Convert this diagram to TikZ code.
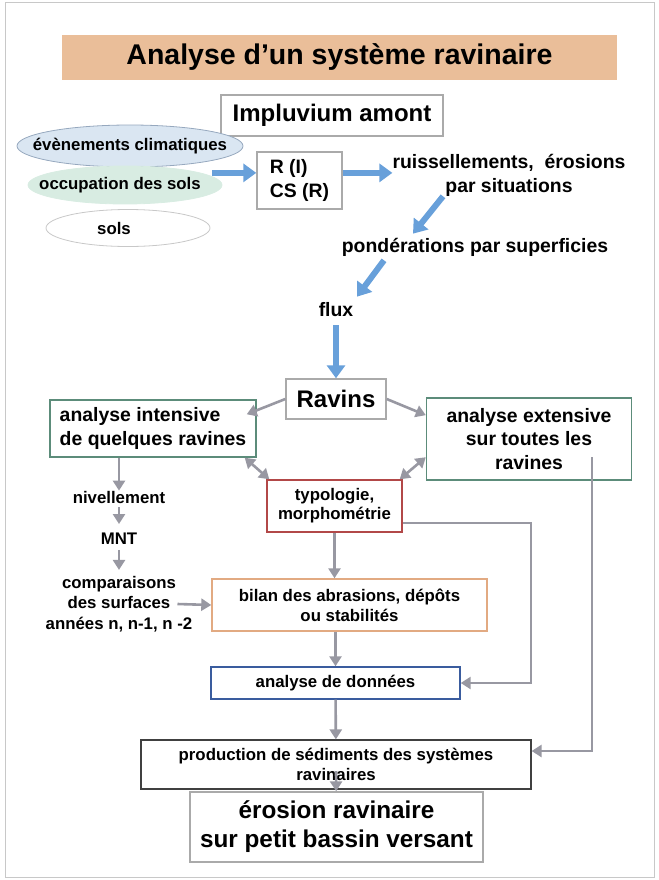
\documentclass[tikz,border=0pt]{standalone}
\usepackage{fontspec}
\setmainfont{Liberation Sans}
\usetikzlibrary{arrows.meta,shapes.geometric,calc}
\definecolor{peche}{RGB}{234,190,153}
\definecolor{bleuclair}{RGB}{218,230,242}
\definecolor{bleubord}{RGB}{150,168,190}
\definecolor{vertclair}{RGB}{216,236,226}
\definecolor{grisclair}{RGB}{200,200,200}
\definecolor{grisbord}{RGB}{170,170,170}
\definecolor{bleufl}{RGB}{104,160,218}
\definecolor{grisfl}{RGB}{152,152,162}
\definecolor{vert}{RGB}{92,140,122}
\definecolor{rouge}{RGB}{178,72,72}
\definecolor{orange}{RGB}{226,170,130}
\definecolor{bleufonce}{RGB}{58,92,158}
\definecolor{sombre}{RGB}{64,64,64}

\begin{document}
\begin{tikzpicture}[x=1pt,y=-1pt,
	boite/.style={draw=grisbord, line width=1.4pt, inner sep=0pt, align=center},
	ovale/.style={ellipse, inner sep=0pt, line width=0.8pt},
	texte/.style={inner sep=0pt, align=center},
	petit/.style={font=\fontsize{16.8}{20}\selectfont\bfseries},
	moyen/.style={font=\fontsize{19.4}{23.5}\selectfont\bfseries},
	grand/.style={font=\fontsize{24}{29}\selectfont\bfseries},
	fleche/.style={-{Triangle[width=18pt,length=13pt]}, line width=6pt, bleufl},
	gris/.style={-{Triangle[width=12pt,length=10pt]}, line width=2.6pt, grisfl},
	grisdbl/.style={{Triangle[width=12pt,length=10pt]}-{Triangle[width=12pt,length=10pt]}, line width=2.6pt, grisfl}]
	\useasboundingbox (0,0) rectangle (658,880);
	\draw[grisclair, line width=1pt] (5,3) rectangle (654,877);
	\node (titre) at (339.5,57.5) [fill=peche, inner sep=0pt, minimum width=555pt, minimum height=45pt, font=\fontsize{28.5}{32}\selectfont\bfseries] {Analyse d’un système ravinaire};
	\node (imp) at (332,115.5) [boite, grand, minimum width=222pt, minimum height=41pt] {Impluvium amont};
		\node (clim) at (130,146) [ovale, fill=bleuclair, draw=bleubord, minimum width=226pt, minimum height=42pt, label={[petit]center:évènements climatiques}] {};
		\node (occ) at (125,185) [ovale, fill=vertclair, draw=vertclair, minimum width=194pt, minimum height=38pt, label={[petit, xshift=-5pt]center:occupation des sols}] {};
		\node (sols) at (128,228) [ovale, fill=white, draw=grisclair, minimum width=164pt, minimum height=37pt, label={[petit, xshift=-14pt]center:sols}] {};
	\node (rbox) at (299.5,180.5) [boite, moyen, align=left, minimum width=85pt, minimum height=57pt] {R (I)\\CS (R)};
	\node (ruiss) at (509,175) [texte, moyen, font=\fontsize{19.4}{24}\selectfont\bfseries] {ruissellements,\ \ érosions\\par situations};
	\node (pond) at (475,247) [texte, moyen] {pondérations par superficies};
	\node (flux) at (336,310) [texte, moyen] {flux};
	\node (ravins) at (336,399) [boite, grand, minimum width=100pt, minimum height=40pt] {Ravins};
		\node (inten) at (153,428.5) [boite, draw=vert, moyen, align=left, minimum width=206pt, minimum height=57pt] {analyse intensive\\de quelques ravines};
		\node (exten) at (529,439) [boite, draw=vert, moyen, minimum width=205pt, minimum height=82pt] {analyse extensive\\sur toutes les\\ravines};
	\node (typo) at (334.5,506) [boite, draw=rouge, petit, font=\fontsize{16.8}{19}\selectfont\bfseries, minimum width=135pt, minimum height=52pt] {typologie,\\morphométrie};
		\node (nivel) at (119,497) [texte, petit] {nivellement};
		\node (mnt) at (119,539) [texte, petit] {MNT};
		\node (comp) at (119,604) [texte, petit, font=\fontsize{16.8}{20.5}\selectfont\bfseries] {comparaisons\\des surfaces\\années n, n-1, n -2};
	\node (bilan) at (349.5,605) [boite, draw=orange, petit, minimum width=275pt, minimum height=52pt] {bilan des abrasions, dépôts\\ou stabilités};
	\node (donnees) at (335.5,683) [boite, draw=bleufonce, petit, minimum width=249pt, minimum height=32pt] {analyse de données};
	\node (prod) at (336,764.5) [boite, draw=sombre, line width=1.2pt, petit, minimum width=390pt, minimum height=49pt] {production de sédiments des systèmes\\ravinaires};
	\node (eros) at (336.5,827) [boite, font=\fontsize{24.3}{29}\selectfont\bfseries, minimum width=293pt, minimum height=70pt] {érosion ravinaire\\sur petit bassin versant};
	\coordinate (t1) at (531,523);
	\coordinate (e1) at (592,457);
	\coordinate (e2) at (592,751);
	\coordinate (p1) at (336,771);
	\draw[fleche] ($(occ.east |- rbox.170)+(-10,0)$) -- (rbox.170);
	\draw[fleche] (rbox.10) -- (rbox.10 -| ruiss.west);
	\draw[fleche] ($(ruiss.south)+(-66,0)$) -- ($(pond.north)+(-62,-4)$);
	\draw[fleche] ($(pond.south)+(-91,4)$) -- ($(flux.north)+(21,-6)$);
	\draw[fleche, shorten <=8pt] (flux) -- (ravins);
	\draw[gris] (ravins.west) -- ($(inten.north east)+(-10,15)$);
	\draw[gris] (ravins.east) -- (exten.167);
	\draw[grisdbl] ($(inten.south east)+(-12,0)$) -- ($(typo.north west)+(3,0)$);
	\draw[grisdbl] (exten.190) -- ($(typo.north east)+(-3,0)$);
	\draw[gris] (inten.south -| nivel) -- (nivel);
	\draw[gris, shorten <=4pt, shorten >=9pt] (nivel) -- (mnt);
	\draw[gris, shorten <=5pt, shorten >=6pt] (mnt) -- (comp);
	\draw[gris] ($(comp.east)+(-15,0)$) -- (bilan.west);
	\draw[gris] (typo) -- (typo |- bilan.north);
	\draw[gris] (bilan.south -| donnees) -- (donnees);
	\draw[gris] (typo.east |- t1) -- (t1) |- (donnees);
	\draw[gris] (e1) -- (e2) -- (e2 -| prod.east);
	\draw[gris] (donnees) -- (prod);
	\draw[gris] (p1) -- (eros);
\end{tikzpicture}
\end{document}
